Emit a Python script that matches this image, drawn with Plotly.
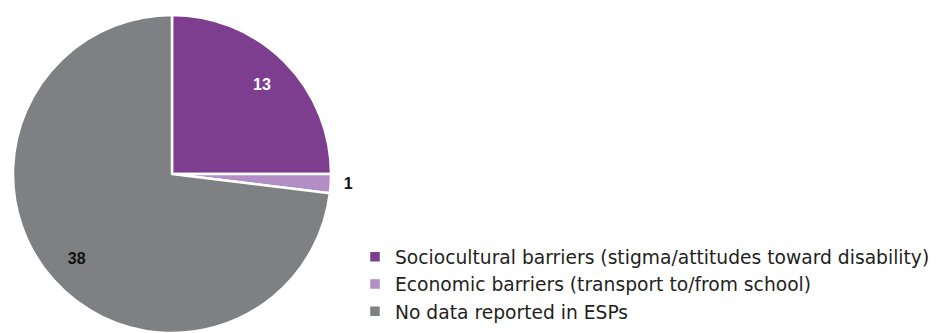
import plotly.graph_objects as go

categories = [
    "Sociocultural barriers (stigma/attitudes toward disability)",
    "Economic barriers (transport to/from school)",
    "No data reported in ESPs",
]
values = [13, 1, 38]
colors = ["#7e3e90", "#b28dc6", "#7f8083"]
label_colors = ["#ffffff", "#111111", "#111111"]
label_positions = ["inside", "outside", "inside"]
label_templates = ["%{value}", "  %{value}", "%{value}"]

W, H = 941, 333
cx, cy, r = 172, 174, 159
pie_domain = dict(x=[(cx - r) / W, (cx + r) / W],
                  y=[(H - cy - r) / H, (H - cy + r) / H])
label_font = dict(family="Liberation Sans, Arial, sans-serif", size=16, weight="bold")

fig = go.Figure()

# solid slices
fig.add_trace(go.Pie(
    labels=categories,
    values=values,
    sort=False,
    direction="clockwise",
    rotation=0,
    marker=dict(colors=colors, line=dict(color="#ffffff", width=2.5)),
    textinfo="none",
    domain=pie_domain,
    hoverinfo="label+value",
))

# transparent ring on top that carries the value labels toward the rim
fig.add_trace(go.Pie(
    labels=categories,
    values=values,
    sort=False,
    direction="clockwise",
    rotation=0,
    hole=0.6,
    marker=dict(colors=["rgba(0,0,0,0)"] * 3, line=dict(width=0)),
    texttemplate=label_templates,
    textposition=label_positions,
    insidetextorientation="horizontal",
    textfont=dict(**label_font, color=label_colors),
    outsidetextfont=dict(**label_font, color="#111111"),
    domain=pie_domain,
    showlegend=False,
    hoverinfo="skip",
))

fig.update_layout(
    width=W,
    height=H,
    margin=dict(l=0, r=0, t=0, b=0, autoexpand=False),
    paper_bgcolor="#ffffff",
    plot_bgcolor="#ffffff",
    showlegend=True,
    legend=dict(
        x=355 / W, xanchor="left",
        y=(H - 284) / H, yanchor="middle",
        font=dict(family="DejaVu Sans, sans-serif", size=18.7, color="#231f20"),
        itemwidth=30,
        bgcolor="rgba(0,0,0,0)",
    ),
)

fig.write_html("out.html")
